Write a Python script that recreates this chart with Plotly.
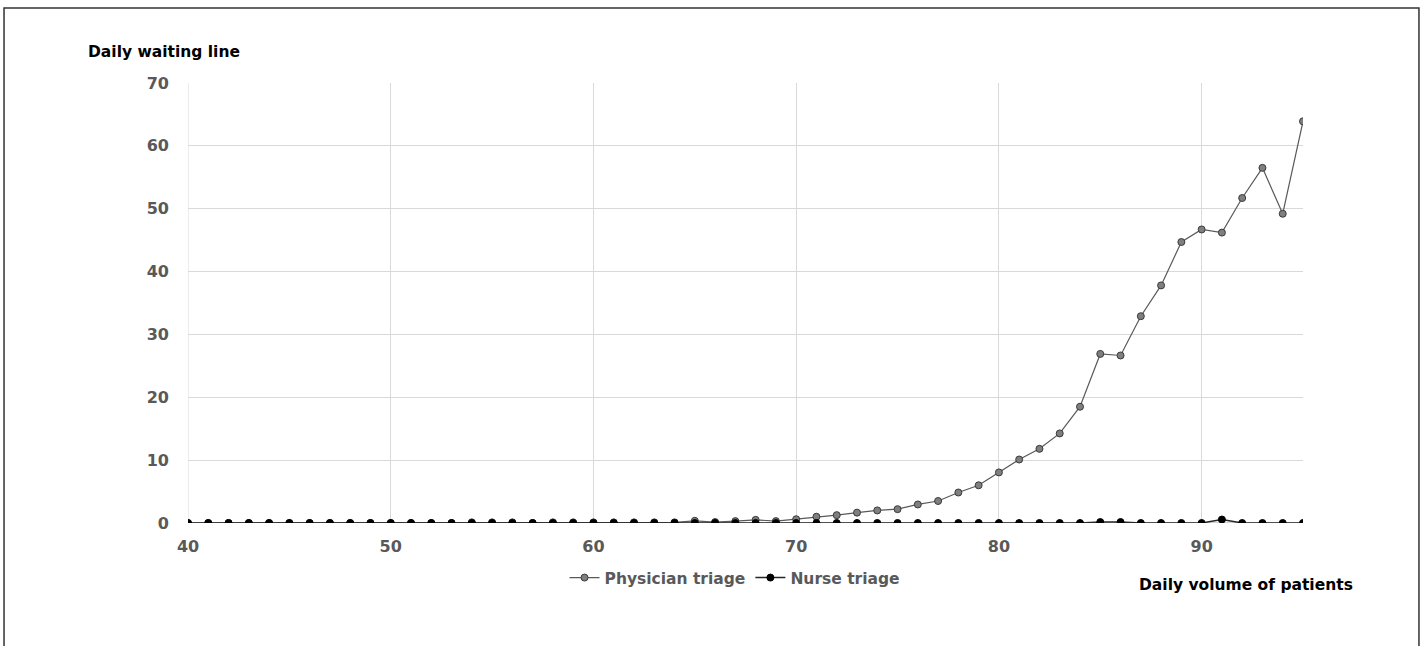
import plotly.graph_objects as go

# Daily patient volume (x) and resulting daily waiting line per triage model
volume = list(range(40, 96))

physician_triage = [
    0, 0, 0, 0, 0, 0, 0, 0, 0, 0,          # 40-49
    0, 0, 0, 0, 0.1, 0.1, 0.1, 0, 0.1, 0.1,  # 50-59
    0.1, 0.1, 0.1, 0.1, 0.1, 0.35, 0.15, 0.3, 0.5, 0.3,  # 60-69
    0.6, 1.0, 1.25, 1.65, 2.0, 2.2, 2.95, 3.5, 4.85, 6.0,  # 70-79
    8.05, 10.1, 11.8, 14.25, 18.5, 26.9, 26.65, 32.9, 37.8, 44.7,  # 80-89
    46.7, 46.2, 51.7, 56.5, 49.2, 63.9,  # 90-95
]

nurse_triage = [
    0, 0, 0, 0, 0, 0, 0, 0, 0, 0,
    0, 0, 0, 0, 0, 0, 0, 0, 0, 0,
    0, 0, 0, 0, 0, 0, 0, 0, 0, 0,
    0, 0, 0, 0, 0, 0, 0, 0, 0, 0,
    0, 0, 0, 0, 0, 0.15, 0.15, 0, 0, 0,
    0, 0.55, 0, 0, 0, 0,
]

x_ticks = [40, 50, 60, 70, 80, 90]
y_ticks = [0, 10, 20, 30, 40, 50, 60, 70]

FONT = "DejaVu Sans"
GRID = "#d9d9d9"

fig = go.Figure()

fig.add_trace(go.Scatter(
    x=volume, y=physician_triage, name="Physician triage",
    mode="lines+markers",
    line=dict(color="#595959", width=1.2),
    marker=dict(size=7, color="#7f7f7f", line=dict(color="#3a3a3a", width=1)),
))

fig.add_trace(go.Scatter(
    x=volume, y=nurse_triage, name="Nurse triage",
    mode="lines+markers",
    line=dict(color="#262626", width=1.5),
    marker=dict(size=7, color="#000000", line=dict(color="#000000", width=1)),
))

fig.update_xaxes(
    range=[40, 95], tickvals=x_ticks,
    showgrid=True, gridcolor=GRID, gridwidth=1,
    zeroline=False, showline=False,
    ticks="", ticklen=0, ticklabelstandoff=12,
    tickfont=dict(family=FONT, size=16, color="#595959", weight="bold"),
)
fig.update_yaxes(
    range=[0, 70], tickvals=y_ticks,
    showgrid=True, gridcolor=GRID, gridwidth=1,
    zeroline=False, showline=False,
    ticks="", ticklen=0, ticklabelstandoff=18,
    tickfont=dict(family=FONT, size=16, color="#595959", weight="bold"),
)

# Left boundary gridline and category axis line at zero
fig.add_shape(type="line", xref="x", yref="y", x0=40, x1=40, y0=0, y1=70,
              line=dict(color=GRID, width=1), layer="below")
fig.add_shape(type="line", xref="x", yref="y", x0=40, x1=95, y0=0, y1=0,
              line=dict(color="#a6a6a6", width=1.2), layer="below")

# Outer chart frame
fig.add_shape(type="rect", xref="paper", yref="paper",
              x0=-0.165, x1=1.104, y0=-0.3, y1=1.1705,
              line=dict(color="#333333", width=1.5), fillcolor="rgba(0,0,0,0)")

fig.add_annotation(text="<b>Daily waiting line</b>", xref="paper", yref="paper",
                   x=-0.0915, y=1.0705, xanchor="left", yanchor="middle",
                   showarrow=False, font=dict(family=FONT, size=15.5, color="#000000"))
fig.add_annotation(text="<b>Daily volume of patients</b>", xref="paper", yref="paper",
                   x=1.0466, y=-0.141, xanchor="right", yanchor="middle",
                   showarrow=False, font=dict(family=FONT, size=15.5, color="#000000"))

fig.update_layout(
    width=1424, height=646,
    margin=dict(l=188, r=121, t=83, b=123),
    paper_bgcolor="white", plot_bgcolor="white",
    showlegend=True,
    legend=dict(
        orientation="h", x=0.4906, y=-0.125, xanchor="center", yanchor="middle",
        font=dict(family=FONT, size=15.5, color="#595959", weight="bold"),
        itemwidth=30, tracegroupgap=0,
        bgcolor="rgba(0,0,0,0)",
    ),
)

fig.write_html("out.html")
